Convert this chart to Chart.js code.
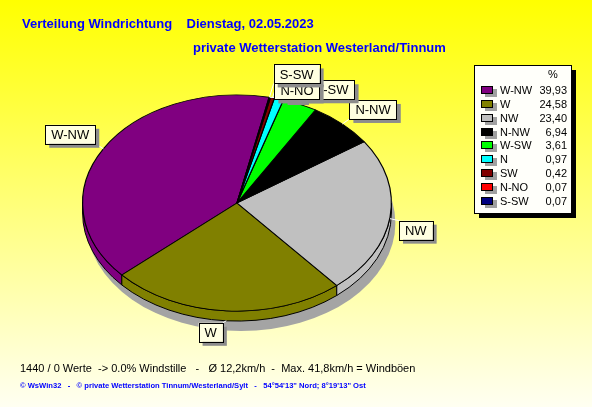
<!DOCTYPE html>
<html>
<head>
<meta charset="utf-8">
<script src="https://cdn.jsdelivr.net/npm/chart.js@4.4.0/dist/chart.umd.min.js"></script>
<style>
  html, body { margin: 0; padding: 0; overflow: hidden; }
  canvas { display: block; }
</style>
</head>
<body>
<canvas id="wind-chart" width="592" height="407"></canvas>
<script>
// Wind direction shares, in legend order
const directions  = ['W-NW', 'W', 'NW', 'N-NW', 'W-SW', 'N', 'SW', 'N-NO', 'S-SW'];
const shares      = [39.93, 24.58, 23.40, 6.94, 3.61, 0.97, 0.42, 0.07, 0.07];
const sliceColors = ['#800080', '#808000', '#c0c0c0', '#000000', '#00ff00', '#00ffff', '#800000', '#ff0000', '#000080'];

const titleLine1 = 'Verteilung Windrichtung    Dienstag, 02.05.2023';
const titleLine2 = 'private Wetterstation Westerland/Tinnum';
const infoLine   = '1440 / 0 Werte  -> 0.0% Windstille   -   Ø 12,2km/h  -  Max. 41,8km/h = Windböen';
const footLine   = '© WsWin32   -   © private Wetterstation Tinnum/Westerland/Sylt   -   54°54\'13" Nord; 8°19\'13" Ost';

const SQUASH = 0.7;   // tilt of the pie
const DEPTH  = 10;    // thickness of the pie in px
const FONT   = '"Liberation Sans", Arial, sans-serif';

const fmt = v => v.toFixed(2).replace('.', ',');

function tilt(ctx, arc) {
  ctx.translate(arc.x, arc.y);
  ctx.scale(-1, SQUASH);
  ctx.translate(-arc.x, -arc.y);
}

const pie3d = {
  id: 'pie3d',
  beforeDraw(chart) {
    const { ctx, width, height } = chart;
    const g = ctx.createLinearGradient(0, 0, 0, height);
    g.addColorStop(0, '#ffff00');
    g.addColorStop(1, '#fffff2');
    ctx.save();
    ctx.fillStyle = g;
    ctx.fillRect(0, 0, width, height);

    ctx.fillStyle = '#0000ff';
    ctx.textBaseline = 'middle';
    ctx.font = 'bold 13px ' + FONT;
    ctx.fillText(titleLine1, 22, 24);
    ctx.fillText(titleLine2, 193, 48);

    ctx.fillStyle = '#000';
    ctx.font = '11px ' + FONT;
    ctx.fillText(infoLine, 20, 369);

    ctx.fillStyle = '#0000ff';
    ctx.font = 'bold 7.6px ' + FONT;
    ctx.fillText(footLine, 20, 386);
    ctx.restore();
  },
  beforeDatasetsDraw(chart) {
    const ctx = chart.ctx;
    const arcs = chart.getDatasetMeta(0).data;
    const { x, y, outerRadius: r } = arcs[0];
    ctx.save();
    // shadow under the pie
    ctx.fillStyle = '#a4a4a4';
    ctx.beginPath();
    ctx.ellipse(x + 4, y + DEPTH + 10, r, r * SQUASH, 0, 0, Math.PI * 2);
    ctx.fill();
    // front walls
    const d = DEPTH / SQUASH;
    ctx.lineWidth = 1;
    ctx.strokeStyle = '#000';
    arcs.forEach((arc, i) => {
      for (let k = -1; k <= 2; k++) {
        const lo = Math.max(arc.startAngle, 2 * Math.PI * k);
        const hi = Math.min(arc.endAngle, 2 * Math.PI * k + Math.PI);
        if (hi <= lo) continue;
        ctx.save();
        tilt(ctx, arc);
        ctx.beginPath();
        ctx.arc(x, y, r, lo, hi);
        ctx.arc(x, y + d, r, hi, lo, true);
        ctx.closePath();
        ctx.restore();
        ctx.fillStyle = sliceColors[i];
        ctx.fill();
        ctx.stroke();
      }
    });
    ctx.restore();
    // top face is drawn by Chart.js through the tilt
    ctx.save();
    tilt(ctx, arcs[0]);
  },
  afterDatasetsDraw(chart) {
    const ctx = chart.ctx;
    ctx.restore();
    const arcs = chart.getDatasetMeta(0).data;
    const { x, y, outerRadius: r } = arcs[0];
    const ry = r * SQUASH;

    // slice labels
    ctx.save();
    ctx.font = '13px ' + FONT;
    ctx.textBaseline = 'middle';
    ctx.textAlign = 'center';
    const boxes = [];
    arcs.forEach((arc, i) => {
      const mid = (arc.startAngle + arc.endAngle) / 2;
      const c = -Math.cos(mid), s = Math.sin(mid);
      const ax = x + r * c;
      const ay = y + ry * s + (s > 0 ? DEPTH * s : 0);
      const w = ctx.measureText(directions[i]).width + 12, h = 19;
      const off = 3 + 6 * Math.abs(c);
      let left = c >= 0 ? ax + off : ax - off - w;
      let top = s > 0 ? ay + 2 : ay - h + (s < -0.95 ? 2 : -5);
      const prev = boxes[i - 1];
      if (prev) {
        const ox = Math.min(left + w, prev.left + prev.w) - Math.max(left, prev.left);
        const oy = Math.min(top + h, prev.top + prev.h) - Math.max(top, prev.top);
        if (ox > 6 && oy > 6) top = prev.top - 16;
      }
      boxes.push({ left, top, w, h });
      // leader
      const px = Math.min(Math.max(ax, left), left + w);
      const py = Math.min(Math.max(ay, top), top + h);
      ctx.strokeStyle = '#ffffff';
      ctx.lineWidth = 1;
      ctx.beginPath();
      ctx.moveTo(ax, ay);
      ctx.lineTo(px, py);
      ctx.stroke();
      // box
      ctx.fillStyle = '#8c8c8c';
      ctx.fillRect(left + 4, top + 4, w, h);
      ctx.fillStyle = '#ffffe1';
      ctx.fillRect(left, top, w, h);
      ctx.strokeStyle = '#000';
      ctx.strokeRect(Math.round(left) + 0.5, Math.round(top) + 0.5, Math.round(w), h);
      ctx.fillStyle = '#000';
      ctx.fillText(directions[i], left + w / 2, top + h / 2 + 1);
    });
    ctx.restore();

    // legend box
    ctx.save();
    const lx = 474, ly = 65, lw = 97, lh = 148;
    ctx.fillStyle = '#000';
    ctx.fillRect(lx + 5, ly + 5, lw, lh);
    ctx.fillStyle = '#fffffa';
    ctx.fillRect(lx, ly, lw, lh);
    ctx.strokeStyle = '#000';
    ctx.lineWidth = 1;
    ctx.strokeRect(lx + 0.5, ly + 0.5, lw, lh);
    ctx.font = '11px ' + FONT;
    ctx.textBaseline = 'middle';
    ctx.fillStyle = '#000';
    ctx.textAlign = 'center';
    ctx.fillText('%', 553, 75);
    directions.forEach((name, i) => {
      const ry0 = 90 + i * 13.85;
      const sy = Math.round(ry0 - 4);
      ctx.fillStyle = '#a0a0a0';
      ctx.fillRect(485, sy + 3, 12, 8);
      ctx.fillStyle = sliceColors[i];
      ctx.fillRect(481, sy, 12, 8);
      ctx.strokeStyle = '#000';
      ctx.strokeRect(481.5, sy + 0.5, 11, 7);
      ctx.fillStyle = '#000';
      ctx.textAlign = 'left';
      ctx.fillText(name, 500, ry0 + 1);
      ctx.textAlign = 'right';
      ctx.fillText(fmt(shares[i]), 567, ry0 + 1);
    });
    ctx.restore();
  }
};

new Chart(document.getElementById('wind-chart'), {
  type: 'pie',
  data: {
    labels: directions,
    datasets: [{
      data: shares,
      backgroundColor: sliceColors,
      borderColor: '#000',
      borderWidth: 1.2,
      clip: false
    }]
  },
  options: {
    responsive: false,
    animation: false,
    rotation: -12,
    layout: { padding: { left: 82, right: 200, top: 48, bottom: 49 } },
    plugins: { legend: { display: false }, tooltip: { enabled: false } },
    events: []
  },
  plugins: [pie3d]
});
</script>
</body>
</html>
